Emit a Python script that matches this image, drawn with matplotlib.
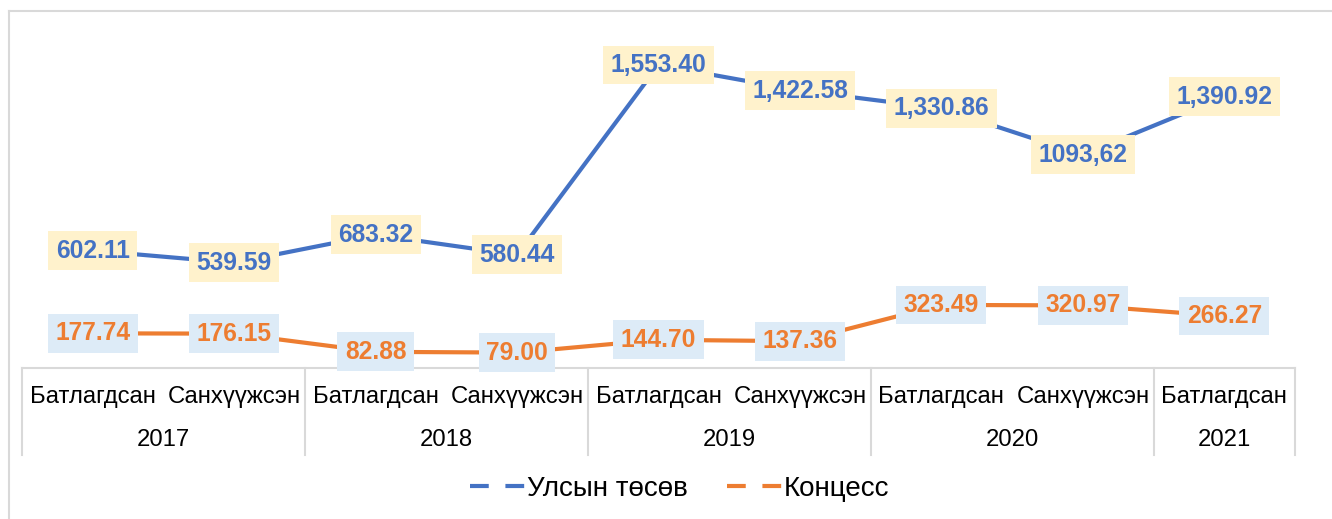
import matplotlib.pyplot as plt
from matplotlib.lines import Line2D

plt.rcParams['font.family'] = ['Liberation Sans', 'DejaVu Sans']

## Données
sub_labels = ['Батлагдсан', 'Санхүүжсэн', 'Батлагдсан', 'Санхүүжсэн', 'Батлагдсан',
              'Санхүүжсэн', 'Батлагдсан', 'Санхүүжсэн', 'Батлагдсан']
years = ['2017', '2018', '2019', '2020', '2021']
year_sizes = [2, 2, 2, 2, 1]
budget = [602.11, 539.59, 683.32, 580.44, 1553.40, 1422.58, 1330.86, 1093.62, 1390.92]
budget_text = ['602.11', '539.59', '683.32', '580.44', '1,553.40', '1,422.58',
               '1,330.86', '1093,62', '1,390.92']
concess = [177.74, 176.15, 82.88, 79.00, 144.70, 137.36, 323.49, 320.97, 266.27]
concess_text = ['177.74', '176.15', '82.88', '79.00', '144.70', '137.36',
                '323.49', '320.97', '266.27']

blue = '#4472C4'
orange = '#ED7D31'
grid_col = '#D9D9D9'

fig = plt.figure(figsize=(13.32, 5.19), dpi=100)
W, H = 1332, 519
ax = fig.add_axes([22 / W, (H - 368) / H, (1295 - 22) / W, (368 - 17) / H])

x = list(range(len(budget)))
ax.plot(x, budget, color=blue, lw=3, solid_capstyle='round', zorder=2)
ax.plot(x, concess, color=orange, lw=3, solid_capstyle='round', zorder=2)

for xi, v, t in zip(x, budget, budget_text):
    ax.text(xi, v, t, ha='center', va='center', fontsize=17.7, fontweight='bold',
            color=blue, zorder=3,
            bbox=dict(boxstyle='square,pad=0.3', fc='#FFF2CC', ec='none'))
for xi, v, t in zip(x, concess, concess_text):
    ax.text(xi, v, t, ha='center', va='center', fontsize=17.7, fontweight='bold',
            color=orange, zorder=3,
            bbox=dict(boxstyle='square,pad=0.3', fc='#DDEBF7', ec='none'))

ax.set_xlim(-0.5, len(budget) - 0.5)
ax.set_ylim(0, 1800)
ax.axis('off')

## Tableau des catégories sous l'axe
tr = ax.get_xaxis_transform()
ax.plot([-0.5, len(budget) - 0.5], [0, 0], color=grid_col, lw=1.5, transform=tr, clip_on=False)
bottom = -(455 - 368) / (368 - 17)
row1 = -(397 - 368) / (368 - 17)
row2 = -(440 - 368) / (368 - 17)
start = -0.5
ax.plot([start, start], [0, bottom], color=grid_col, lw=1.5, transform=tr, clip_on=False)
for y, n in zip(years, year_sizes):
    end = start + n
    ax.plot([end, end], [0, bottom], color=grid_col, lw=1.5, transform=tr, clip_on=False)
    ax.text((start + end) / 2, row2, y, ha='center', va='center', fontsize=17.2,
            transform=tr)
    start = end
for xi, lab in zip(x, sub_labels):
    ax.text(xi, row1, lab, ha='center', va='center', fontsize=17.2, transform=tr)

## Légende
handles = [Line2D([], [], color=blue, lw=3, linestyle=(0, (4.5, 4))),
           Line2D([], [], color=orange, lw=3, linestyle=(0, (4.5, 4)))]
fig.legend(handles, ['Улсын төсөв', 'Концесс'], loc='center',
           bbox_to_anchor=(680 / W, (H - 489) / H), ncol=2, frameon=False,
           fontsize=20, handlelength=2.0, handletextpad=0.05, columnspacing=1.4)

## Cadre (haut et gauche seulement)
top = (H - 11) / H
fig.add_artist(Line2D([9 / W, 1], [top, top], color=grid_col, lw=1.5, transform=fig.transFigure))
fig.add_artist(Line2D([9 / W, 9 / W], [0, top], color=grid_col, lw=1.5, transform=fig.transFigure))

fig.savefig('out.png', dpi=100)
plt.close()
